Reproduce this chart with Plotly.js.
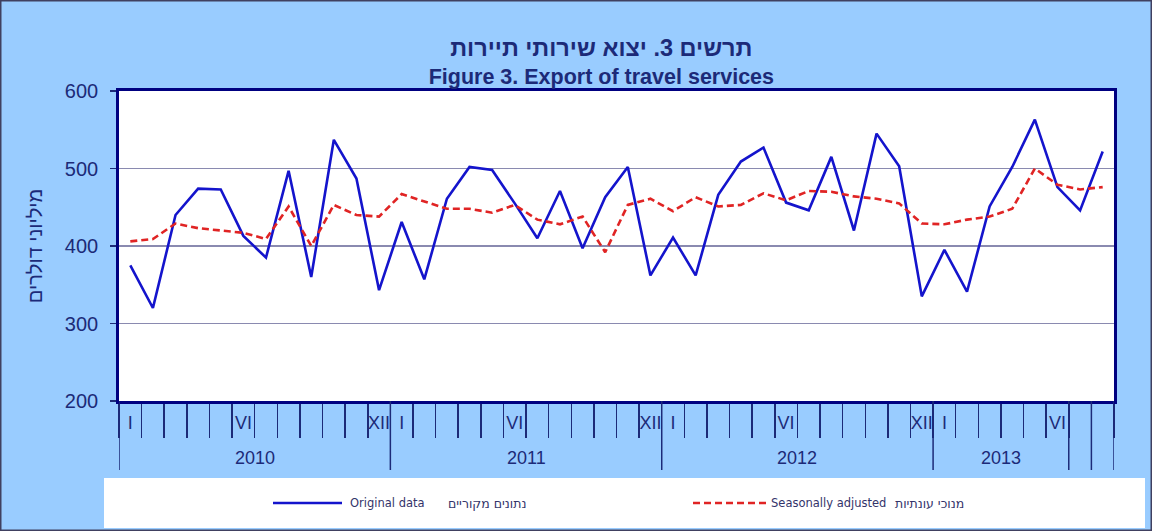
<!DOCTYPE html>
<html>
<head>
<meta charset="utf-8">
<script src="https://cdn.plot.ly/plotly-3.0.1.min.js"></script>
<style>
html,body{margin:0;padding:0;background:#99ccff;}
#chart{width:1152px;height:531px;}
</style>
</head>
<body>
<div id="chart"></div>
<script>
// ---- data ----
const years = ['2010', '2011', '2012', '2013'];
const monthsPerYear = [12, 12, 12, 8];
const romanMonths = ['I','II','III','IV','V','VI','VII','VIII','IX','X','XI','XII'];
const shownMonthLabels = ['I', 'VI', 'XII'];
const yearGroupLabels = ['2010', '2011', '2012', '2013', '', ''];
const yearGroupSizes = [12, 12, 12, 6, 1, 1];

const originalData = [
  375, 320, 440, 474, 473, 413, 385, 497, 360, 537, 487, 343,
  431, 357, 461, 502, 498, 455, 410, 471, 397, 463, 502, 362,
  411, 362, 466, 509, 527, 456, 446, 515, 420, 545, 503, 335,
  395, 341, 451, 502, 563, 476, 446, 522
];
const seasonallyAdjusted = [
  406, 409, 429, 423, 420, 417, 409, 451, 400, 453, 440, 438,
  467, 457, 448, 448, 443, 453, 434, 428, 438, 392, 453, 461,
  445, 463, 451, 453, 468, 459, 471, 470, 464, 461, 455, 429,
  428, 434, 438, 448, 500, 479, 473, 476
];
const yTicks = [200, 300, 400, 500, 600];

const titleHe = 'תרשים 3. יצוא שירותי תיירות';
const titleEn = 'Figure 3. Export of travel services';
const yTitle = 'מיליוני דולרים';
const seriesNamesEn = ['Original data', 'Seasonally adjusted'];
const seriesNamesHe = ['נתונים מקוריים', 'מנוכי עונתיות'];

// ---- build categories ----
const categories = [];
const tickText = [];
years.forEach((y, yi) => {
  for (let m = 0; m < monthsPerYear[yi]; m++) {
    categories.push(romanMonths[m] + ' ' + y);
    tickText.push(shownMonthLabels.includes(romanMonths[m]) ? romanMonths[m] : '');
  }
});
const n = categories.length;

// plot geometry (px) used to convert to paper coords for decorations
const W = 1152, H = 531, L = 119, R = 38, T = 91, B = 130;
const pw = W - L - R, ph = H - T - B;
const px = v => (v - L) / pw;
const py = v => (H - B - v) / ph;

const navy = '#1c2a78';
const font = 'Liberation Sans, Arial, sans-serif';

const shapes = [];
const annotations = [];

// year group dividers and labels
let start = 0;
shapes.push({type:'line', xref:'x', yref:'paper', x0:-0.5, x1:-0.5, y0:0, y1:py(470),
  line:{color:navy, width:1.5}});
yearGroupLabels.forEach((lab, gi) => {
  const size = yearGroupSizes[gi];
  const end = start + size - 1;
  shapes.push({type:'line', xref:'x', yref:'paper', x0:end + 0.5, x1:end + 0.5, y0:0, y1:py(470),
    line:{color:navy, width:1.5}});
  if (lab) {
    annotations.push({xref:'x', yref:'paper', x:(start + end) / 2, y:py(458), text:lab,
      showarrow:false, xanchor:'center', yanchor:'middle',
      font:{family:font, size:18, color:navy}});
  }
  start = end + 1;
});

// legend (drawn manually to match the long line samples)
shapes.push({type:'rect', xref:'paper', yref:'paper', x0:px(104), x1:px(1145), y0:py(528), y1:py(478),
  fillcolor:'#ffffff', line:{width:0}, layer:'below'});
shapes.push({type:'line', xref:'paper', yref:'paper', x0:px(273), x1:px(342), y0:py(503), y1:py(503),
  line:{color:'#1414cc', width:2.5}});
shapes.push({type:'line', xref:'paper', yref:'paper', x0:px(693), x1:px(767), y0:py(503), y1:py(503),
  line:{color:'#e02424', width:2.5, dash:'7px,4px'}});
const legFont = {family:'DejaVu Sans, sans-serif', size:11.5, color:'#34346a'};
const legFontHe = {family:'DejaVu Sans, sans-serif', size:12.5, color:'#34346a'};
annotations.push({xref:'paper', yref:'paper', x:px(348), y:py(503), text:seriesNamesEn[0], showarrow:false, xanchor:'left', yanchor:'middle', font:legFont});
annotations.push({xref:'paper', yref:'paper', x:px(446), y:py(503), text:seriesNamesHe[0], showarrow:false, xanchor:'left', yanchor:'middle', font:legFontHe});
annotations.push({xref:'paper', yref:'paper', x:px(769), y:py(503), text:seriesNamesEn[1], showarrow:false, xanchor:'left', yanchor:'middle', font:legFont});
annotations.push({xref:'paper', yref:'paper', x:px(893), y:py(503), text:seriesNamesHe[1], showarrow:false, xanchor:'left', yanchor:'middle', font:legFontHe});

// outer frame
shapes.push({type:'rect', xref:'paper', yref:'paper', x0:px(0.75), x1:px(1151.25), y0:py(530.25), y1:py(0.75),
  line:{color:'#404060', width:1.5}, fillcolor:'rgba(0,0,0,0)'});

const traces = [
  {x:categories, y:originalData, type:'scatter', mode:'lines', name:seriesNamesEn[0],
   line:{color:'#1414cc', width:2.6}, showlegend:false},
  {x:categories, y:seasonallyAdjusted, type:'scatter', mode:'lines', name:seriesNamesEn[1],
   line:{color:'#e02424', width:2.6, dash:'7px,4px'}, showlegend:false}
];

const layout = {
  width:W, height:H,
  margin:{l:L, r:R, t:T, b:B, pad:0},
  paper_bgcolor:'#99ccff',
  plot_bgcolor:'#ffffff',
  showlegend:false,
  title:{
    text:'<b><span style="font-size:23.5px">' + titleHe + '</span></b><br><b>' + titleEn + '</b>',
    font:{family:font, size:21.5, color:navy},
    x:0.522, xref:'container', xanchor:'center',
    y:1 - 56 / H, yref:'container', yanchor:'middle'
  },
  xaxis:{
    type:'category',
    categoryorder:'array', categoryarray:categories,
    range:[-0.5, n - 0.5],
    tickmode:'array', tickvals:categories, ticktext:tickText,
    tickson:'boundaries',
    ticks:'outside', ticklen:34, tickwidth:1.5, tickcolor:navy,
    ticklabelstandoff:4,
    tickangle:0,
    tickfont:{family:font, size:18, color:navy},
    showgrid:false, zeroline:false,
    showline:true, linecolor:'#000080', linewidth:2.8, mirror:true,
    fixedrange:true
  },
  yaxis:{
    range:[200, 600],
    tickmode:'array', tickvals:yTicks,
    ticks:'outside', ticklen:6, tickwidth:1.5, tickcolor:navy,
    ticklabelstandoff:8,
    tickfont:{family:font, size:20, color:navy},
    showgrid:true, gridcolor:'#8a8ab0', gridwidth:1.2,
    zeroline:false,
    showline:true, linecolor:'#000080', linewidth:2.8, mirror:true,
    title:{text:yTitle, font:{family:font, size:20, color:navy}, standoff:17},
    automargin:false,
    fixedrange:true
  },
  shapes:shapes,
  annotations:annotations
};

Plotly.newPlot('chart', traces, layout, {displayModeBar:false, staticPlot:true});
</script>
</body>
</html>
